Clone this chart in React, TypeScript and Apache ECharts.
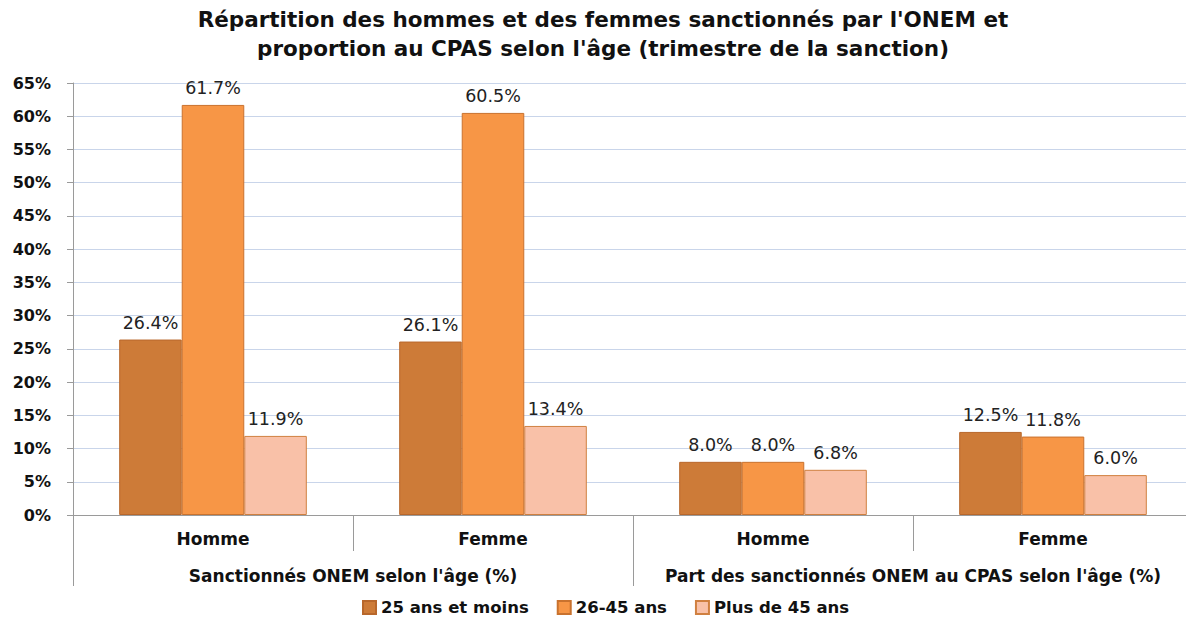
import React, { useEffect, useRef } from "react";
import * as echarts from "echarts";

const subCategories = ["Homme", "Femme", "Homme", "Femme"];
const groupCategories = [
  "Sanctionnés ONEM selon l'âge (%)",
  "Part des sanctionnés ONEM au CPAS selon l'âge (%)",
];
const seriesNames = ["25 ans et moins", "26-45 ans", "Plus de 45 ans"];
const young = [26.4, 26.1, 8.0, 12.5];
const middle = [61.7, 60.5, 8.0, 11.8];
const older = [11.9, 13.4, 6.8, 6.0];
const colors = ["#CD7B38", "#F79646", "#F9C1A8"];
const borders = ["#B8672B", "#C9722E", "#D08040"];

export default function App() {
  const ref = useRef<HTMLDivElement>(null);
  useEffect(() => {
    if (!ref.current) return;
    const chart = echarts.init(ref.current, undefined, { renderer: "svg" });
    const font = "DejaVu Sans";
    const values = [young, middle, older];
    chart.setOption({
      animation: false,
      textStyle: { fontFamily: font },
      graphic: [
        {
          type: "text",
          x: 603,
          y: 5,
          style: {
            text: "Répartition des hommes et des femmes sanctionnés par l'ONEM et\nproportion au CPAS selon l'âge (trimestre de la sanction)",
            textAlign: "center",
            fontFamily: font,
            fontWeight: "bold",
            fontSize: 21.5,
            lineHeight: 29,
            fill: "#111",
          },
        },
      ],
      legend: {
        top: 597,
        left: 360,
        icon: "rect",
        itemWidth: 13,
        itemHeight: 13,
        itemGap: 28,
        padding: 2,
        textStyle: { fontFamily: font, fontWeight: "bold", fontSize: 16.5, color: "#111" },
        data: seriesNames,
      },
      grid: { left: 73, right: 1, top: 83, bottom: 103, containLabel: false },
      yAxis: {
        type: "value",
        min: 0,
        max: 65,
        interval: 5,
        axisLine: { show: true, lineStyle: { color: "#9a9a9a", width: 1 } },
        axisTick: { show: true, length: 6, lineStyle: { color: "#9a9a9a" } },
        axisLabel: {
          formatter: (v: number) => `${v}%`,
          fontFamily: font,
          fontWeight: "bold",
          fontSize: 16,
          color: "#111",
          margin: 22,
        },
        splitLine: { lineStyle: { color: "#C9D5EA", width: 1 } },
      },
      xAxis: [
        {
          type: "category",
          data: subCategories,
          position: "bottom",
          axisLine: { show: true, lineStyle: { color: "#9a9a9a" } },
          axisTick: { show: true, interval: 0, length: 36, lineStyle: { color: "#9a9a9a" } },
          axisLabel: {
            interval: 0,
            fontFamily: font,
            fontWeight: "bold",
            fontSize: 17,
            color: "#111",
            margin: 15,
          },
        },
        {
          type: "category",
          data: groupCategories,
          position: "bottom",
          axisLine: { show: false },
          axisTick: { show: true, interval: 0, length: 71, lineStyle: { color: "#9a9a9a" } },
          axisLabel: {
            interval: 0,
            fontFamily: font,
            fontWeight: "bold",
            fontSize: 17,
            color: "#111",
            margin: 52,
          },
          splitLine: { show: false },
        },
      ],
      series: seriesNames.map((name, i) => ({
        name,
        type: "bar",
        xAxisIndex: 0,
        data: values[i],
        barGap: "0%",
        barCategoryGap: "33%",
        itemStyle: { color: colors[i], borderColor: borders[i], borderWidth: 1 },
        label: {
          show: true,
          position: "top",
          distance: 8,
          formatter: (p: any) => `${Number(p.value).toFixed(1)}%`,
          fontFamily: font,
          fontSize: 17.5,
          color: "#222",
        },
      })),
    });
    return () => chart.dispose();
  }, []);
  return (
    <div
      style={{ position: "absolute", left: 0, top: 0, width: 1186, height: 618, overflow: "hidden", background: "#fff" }}
    >
      <div ref={ref} style={{ width: 1194, height: 618 }} />
    </div>
  );
}
